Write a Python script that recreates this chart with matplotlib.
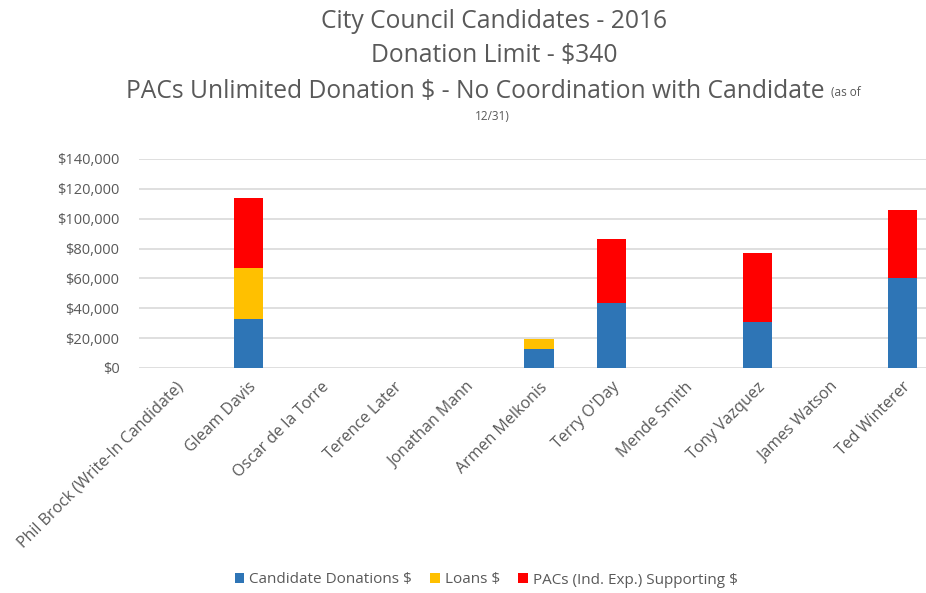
import numpy as np
import matplotlib.pyplot as plt

candidates = ['Phil Brock (Write-In Candidate)', 'Gleam Davis', 'Oscar de la Torre',
              'Terence Later', 'Jonathan Mann', 'Armen Melkonis', "Terry O'Day",
              'Mende Smith', 'Tony Vazquez', 'James Watson', 'Ted Winterer']
donations = [0, 32600, 0, 0, 0, 12700, 43700, 0, 31000, 0, 60000]
loans = [0, 34500, 0, 0, 0, 6700, 0, 0, 0, 0, 0]
pacs = [0, 46800, 0, 0, 0, 0, 43000, 0, 45900, 0, 45700]
yticks = [0, 20000, 40000, 60000, 80000, 100000, 120000, 140000]

grey = '#595959'
plt.rcParams['font.family'] = ['Open Sans', 'DejaVu Sans']

fig = plt.figure(figsize=(9.26, 5.93), dpi=100)
ax = fig.add_axes([139 / 926, 1 - 368 / 593, 800 / 926, (368 - 159) / 593])

x = np.arange(len(candidates))
d = np.array(donations)
l = np.array(loans)
p = np.array(pacs)
w = 0.4
ax.bar(x, d, w, color='#2E75B6', label='Candidate Donations $', zorder=3)
ax.bar(x, l, w, bottom=d, color='#FFC000', label='Loans $', zorder=3)
ax.bar(x, p, w, bottom=d + l, color='#FF0000', label='PACs (Ind. Exp.) Supporting $', zorder=3)

ax.set_xlim(-0.5, len(candidates) - 0.5)
ax.set_ylim(0, 140000)
ax.set_yticks(yticks)
ax.set_yticklabels(['${:,}'.format(v) for v in yticks])
ax.set_xticks(x)
ax.set_xticklabels(candidates, rotation=45, ha='right', rotation_mode='anchor')
ax.tick_params(axis='both', length=0, labelcolor=grey)
ax.tick_params(axis='x', pad=8, labelsize=11.5)
ax.tick_params(axis='y', pad=14, labelsize=10.5)
ax.grid(axis='y', color='#D9D9D9', linewidth=1.2, zorder=0)
for s in ax.spines.values():
    s.set_visible(False)

fig.text(494 / 926, 1 - 22 / 593, 'City Council Candidates - 2016', ha='center', va='center',
         fontsize=17.7, color=grey)
fig.text(494 / 926, 1 - 56 / 593, 'Donation Limit - $340', ha='center', va='center',
         fontsize=17.7, color=grey)
fig.text(825 / 926, 1 - 91 / 593, 'PACs Unlimited Donation $ - No Coordination with Candidate',
         ha='right', va='center', fontsize=17.7, color=grey)
fig.text(831 / 926, 1 - 93 / 593, '(as of', ha='left', va='center', fontsize=8.5, color=grey)
fig.text(492 / 926, 1 - 117 / 593, '12/31)', ha='center', va='center', fontsize=8.5, color=grey)

fig.legend(loc='center', bbox_to_anchor=(486 / 926, 1 - 580 / 593), ncol=3, frameon=False,
           fontsize=11, labelcolor=grey, handlelength=0.65, handleheight=0.65,
           handletextpad=0.3, columnspacing=1.2)

fig.savefig('out.png', dpi=100)
